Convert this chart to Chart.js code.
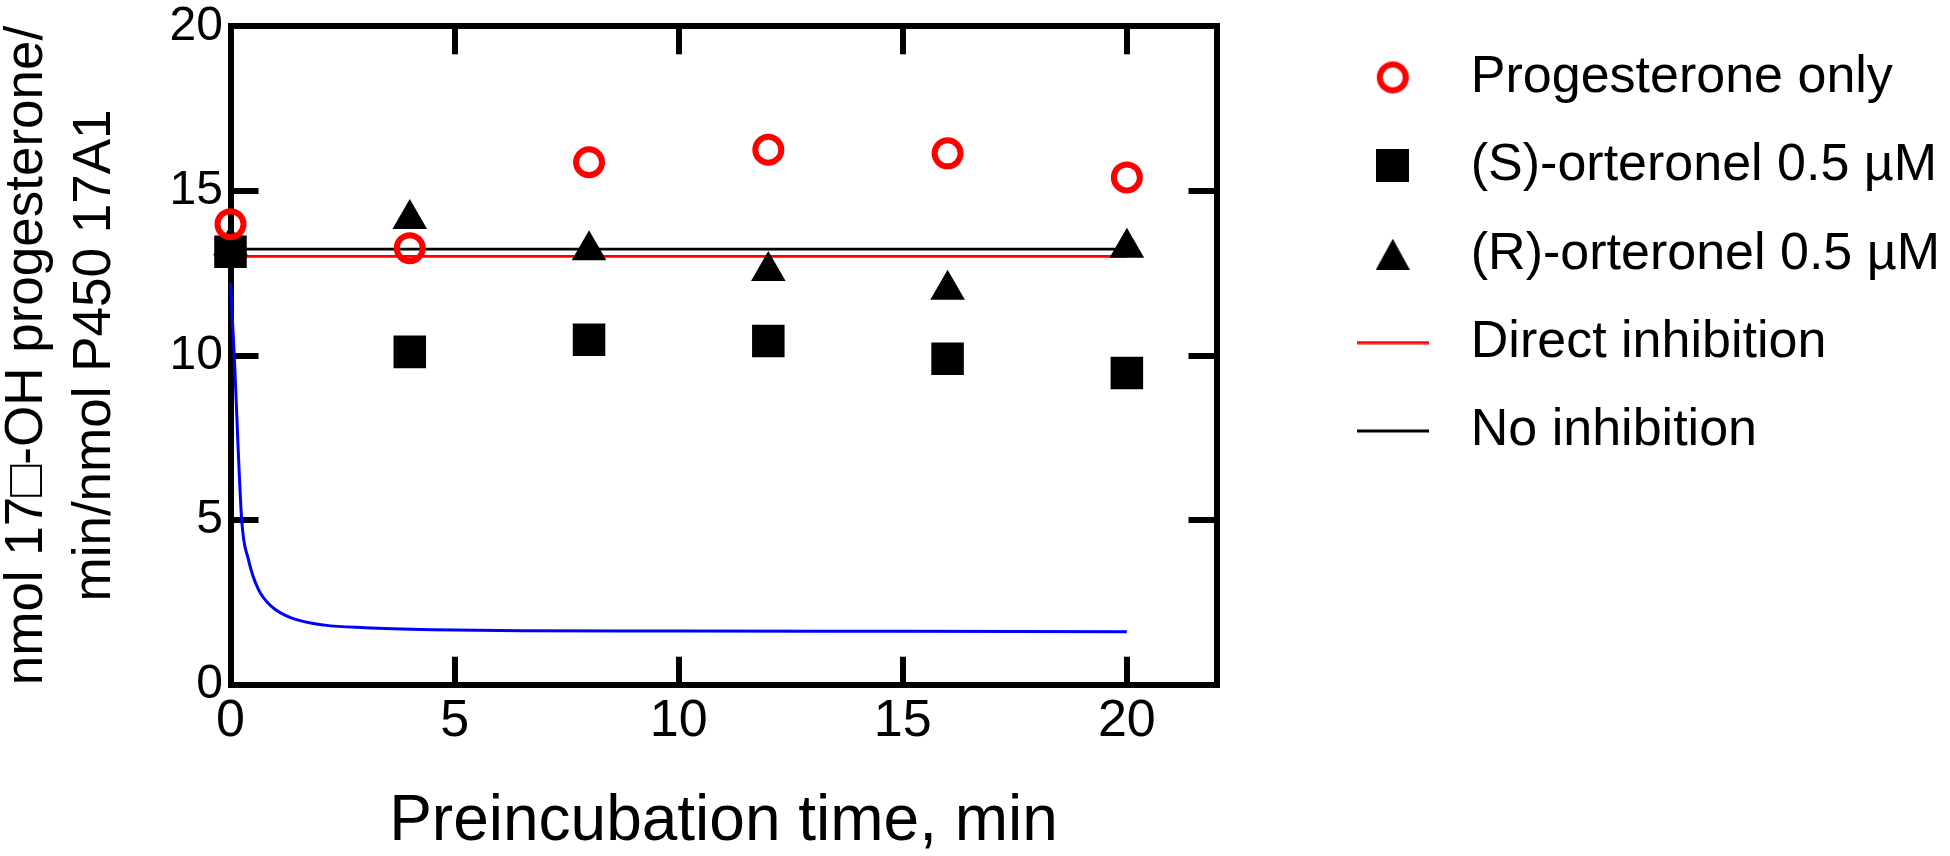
<!DOCTYPE html>
<html>
<head>
<meta charset="utf-8">
<script src="https://cdn.jsdelivr.net/npm/chart.js@4.4.1/dist/chart.umd.min.js"></script>
<style>
  html, body { margin: 0; padding: 0; background: #fff; }
  #wrap { width: 1950px; height: 856px; }
</style>
</head>
<body>
<div id="wrap"><canvas id="chart"></canvas></div>
<script>
const FONT = "'Liberation Sans', Arial, Helvetica, sans-serif";
const RED  = '#ff0000';
const BLUE = '#0000ff';

// preincubation time, min
const times            = [0, 4, 8, 12, 16, 20];
const progesteroneOnly = [13.99, 13.26, 15.87, 16.25, 16.14, 15.41];
const sOrteronel       = [13.15, 10.11, 10.48, 10.44, 9.90, 9.47];
const rOrteronel       = [13.35, 14.15, 13.20, 12.57, 12.00, 13.27];

// horizontal reference lines
const lineTimes        = [0, 20];
const directInhibition = [13.01, 13.01];
const noInhibition     = [13.23, 13.23];

// blue inactivation curve
const curveTimes  = [0, 0.08, 0.25, 0.40, 0.62, 0.92, 1.37, 2.1, 3.0, 4.5, 6.5, 10, 15, 20];
const curveValues = [12.2, 10.1, 5.0, 3.8, 2.9, 2.37, 2.02, 1.81, 1.73, 1.67, 1.64, 1.63, 1.62, 1.61];

const xTicks = [0, 5, 10, 15, 20];
const yTicks = [0, 5, 10, 15, 20];

const seriesNames = [
    'Progesterone only',
    '(S)-orteronel 0.5 µM',
    '(R)-orteronel 0.5 µM',
    'Direct inhibition',
    'No inhibition',
];
const xTitle = 'Preincubation time, min';
const yTitle = ['nmol 17\u25A1-OH progesterone/', 'min/nmol P450 17A1'];

// plot frame, in canvas pixels
const PLOT = { left: 230.5, top: 26.3, right: 1216.5, bottom: 684.7 };
const PAD_TOP = 15;

const pts = (xs, ys) => xs.map((x, i) => ({ x, y: ys[i] }));

function swatch(w, h, paint) {
    const c = document.createElement('canvas');
    c.width = w;
    c.height = h;
    paint(c.getContext('2d'));
    return c;
}

const swatches = [
    swatch(40, 40, g => {
        g.strokeStyle = RED; g.lineWidth = 6;
        g.beginPath(); g.arc(20, 20, 13, 0, Math.PI * 2); g.stroke();
    }),
    swatch(33, 33, g => { g.fillStyle = '#000'; g.fillRect(0, 0, 33, 33); }),
    swatch(34, 31, g => {
        g.fillStyle = '#000';
        g.beginPath(); g.moveTo(17, 0); g.lineTo(34, 31); g.lineTo(0, 31); g.closePath(); g.fill();
    }),
    swatch(72, 4, g => { g.fillStyle = RED;    g.fillRect(0, 0.5, 72, 3); }),
    swatch(72, 4, g => { g.fillStyle = '#000'; g.fillRect(0, 0.5, 72, 3); }),
];

const setTicks = list => scale => { scale.ticks = list.map(v => ({ value: v })); };

// fixed box sizes, no extra room for the end labels
const fitTo = size => s => {
    if (s.isHorizontal()) s.height = size(s);
    else s.width = size(s);
    s.paddingTop = s.paddingBottom = s.paddingLeft = s.paddingRight = 0;
};

const frameAxis = {
    border: { display: true, width: 6, color: '#000' },
    grid:   { display: true, drawOnChartArea: false, drawTicks: true, tickLength: -28, lineWidth: 6, color: '#000' },
};

Chart.defaults.font.family = FONT;
Chart.defaults.color = '#000';

new Chart(document.getElementById('chart').getContext('2d'), {
    type: 'scatter',
    data: {
        datasets: [
            {
                label: seriesNames[0],
                data: pts(times, progesteroneOnly),
                pointStyle: 'circle',
                pointRadius: 13,
                pointBorderWidth: 6,
                borderColor: RED,
                backgroundColor: 'rgba(0,0,0,0)',
                clip: false,
            },
            {
                label: seriesNames[1],
                data: pts(times, sOrteronel),
                pointStyle: 'rect',
                pointRadius: 23,
                pointBorderWidth: 0,
                borderColor: '#000',
                backgroundColor: '#000',
                clip: false,
            },
            {
                label: seriesNames[2],
                data: pts(times, rOrteronel),
                pointStyle: 'triangle',
                pointRadius: 20,
                pointBorderWidth: 0,
                borderColor: '#000',
                backgroundColor: '#000',
                clip: false,
            },
            {
                label: seriesNames[3],
                data: pts(lineTimes, directInhibition),
                showLine: true,
                pointRadius: 0,
                borderWidth: 2.8,
                borderColor: RED,
                clip: false,
            },
            {
                label: seriesNames[4],
                data: pts(lineTimes, noInhibition),
                showLine: true,
                pointRadius: 0,
                borderWidth: 2.8,
                borderColor: '#000',
                clip: false,
            },
            {
                label: 'fit',
                data: pts(curveTimes, curveValues),
                showLine: true,
                cubicInterpolationMode: 'monotone',
                pointRadius: 0,
                borderWidth: 3,
                borderColor: BLUE,
                clip: false,
            },
        ],
    },
    options: {
        responsive: true,
        maintainAspectRatio: false,
        animation: false,
        events: [],
        layout: { padding: { top: PAD_TOP, left: 0, right: 0, bottom: 0 } },
        scales: {
            x: {
                type: 'linear',
                position: 'bottom',
                min: 0,
                max: 22,
                afterBuildTicks: setTicks(xTicks),
                afterFit: fitTo(() => 856 - PLOT.bottom),
                ...frameAxis,
                ticks: { padding: 34, maxRotation: 0, font: { size: 52 } },
                title: {
                    display: true,
                    text: xTitle,
                    font: { size: 64 },
                    padding: { top: 0, bottom: -5 },
                },
            },
            x2: {
                type: 'linear',
                position: 'top',
                min: 0,
                max: 22,
                afterBuildTicks: setTicks(xTicks),
                afterFit: fitTo(() => PLOT.top - PAD_TOP),
                ...frameAxis,
                ticks: { display: false },
            },
            y: {
                type: 'linear',
                position: 'left',
                min: 0,
                max: 20,
                afterBuildTicks: setTicks(yTicks),
                afterFit: fitTo(() => PLOT.left),
                ...frameAxis,
                ticks: { padding: 35.5, font: { size: 48 } },
                title: {
                    display: true,
                    text: yTitle,
                    font: { size: 53, lineHeight: 1.283 },
                    padding: { top: -7, bottom: 0 },
                },
            },
            y2: {
                type: 'linear',
                position: 'right',
                min: 0,
                max: 20,
                afterBuildTicks: setTicks(yTicks),
                afterFit: fitTo(s => {
                    const legendWidth = s.chart.legend ? s.chart.legend.width : 636;
                    return s.chart.width - legendWidth - PLOT.right;
                }),
                ...frameAxis,
                ticks: { display: false },
            },
        },
        plugins: {
            tooltip: { enabled: false },
            legend: {
                position: 'right',
                align: 'start',
                maxWidth: 760,
                labels: {
                    usePointStyle: true,
                    pointStyleWidth: 104,
                    padding: 36.4,
                    font: { size: 52 },
                    color: '#000',
                    generateLabels: () => seriesNames.map((text, i) => ({
                        text,
                        pointStyle: swatches[i],
                        datasetIndex: i,
                        hidden: false,
                        lineWidth: 0,
                        fontColor: '#000',
                    })),
                },
            },
        },
    },
});
</script>
</body>
</html>
